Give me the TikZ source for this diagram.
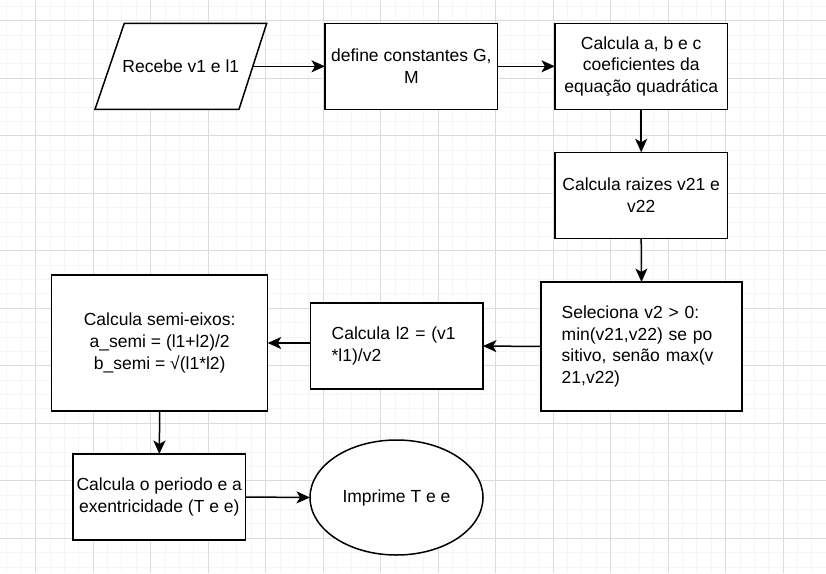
\documentclass[tikz,border=0pt]{standalone}
\usepackage{fontspec}
\setmainfont{Liberation Sans}
\usetikzlibrary{shapes.geometric,arrows.meta}
\newcommand\dfont{\fontsize{17.5}{21.6}\selectfont}
\begin{document}
\begin{tikzpicture}[x=1pt,y=-1pt,
  gridminor/.style={draw=black!4,line width=1pt},
  gridmajor/.style={draw=black!14,line width=1pt},
  box/.style={draw=black,fill=white,line width=1.5pt,rectangle,inner sep=0pt,outer sep=0pt,align=center,font=\dfont},
  txt/.style={inner sep=0pt,align=center,font=\dfont},
  arr/.style={-{Stealth[length=13.5pt,width=12pt,inset=3.5pt]},line width=1.5pt}]
\useasboundingbox (0,0) rectangle (826,573);
\fill[white] (0,0) rectangle (826,573);
% grid
\foreach \k in {-2,...,54} \draw[gridminor] ({35.7+14.375*\k},0) -- ({35.7+14.375*\k},573);
\foreach \k in {-1,...,38} \draw[gridminor] (0,{20.8+14.375*\k}) -- (826,{20.8+14.375*\k});
\foreach \k in {0,...,13} \draw[gridmajor] ({35.7+57.5*\k},0) -- ({35.7+57.5*\k},573);
\foreach \k in {0,...,9} \draw[gridmajor] (0,{20.8+57.5*\k}) -- (826,{20.8+57.5*\k});
% input parallelogram
\draw[fill=white,line width=1.5pt] (124.3,23.3) -- (266.7,23.3) -- (239,109.3) -- (95,109.3) -- cycle;
\node[txt] (in) at (180.8,66.3) {Recebe v1 e l1};
\coordinate (inR) at (252.9,66.3);
% boxes
\node[box,minimum width=172.7pt,minimum height=86pt] (b2) at (411.3,66.3) {define constantes G,\\M};
\node[box,minimum width=172.5pt,minimum height=86pt] (b3) at (641.2,66.3) {Calcula a, b e c\\coeficientes da\\equação quadrática};
\node[box,minimum width=172.3pt,minimum height=86pt] (b4) at (641.2,195.3) {Calcula raizes v21 e\\v22};
\node[box,minimum width=201pt,minimum height=129pt,text width=159.6pt,align=left] (b5) at (641.5,346.5) {Seleciona v2 > 0:\\min(v21,v22) se po\\sitivo, senão max(v\\21,v22)};
\node[box,minimum width=172.3pt,minimum height=86pt,text width=130.3pt,align=left] (b6) at (396.8,346) {Calcula l2 = (v1\\{}*l1)/v2};
\node[box,minimum width=216pt,minimum height=136pt] (b7) at (159.7,343) {Calcula semi-eixos:\\a\_semi = (l1+l2)/2\\b\_semi = √(l1{}*l2)};
\node[box,minimum width=172.7pt,minimum height=86pt] (b8) at (159.3,497) {Calcula o periodo e a\\exentricidade (T e e)};
\node[box,ellipse,minimum width=173pt,minimum height=115pt] (ell) at (396.5,497.5) {Imprime T e e};
% connectors
\draw[arr] (inR) -- (b2.west);
\draw[arr] (b2.east) -- (b3.west);
\draw[arr] (b3.south) -- (b4.north);
\draw[arr] (b4.south) -- (b5.north);
\draw[arr] (b5.west) -- (b6.east);
\draw[arr] (b7.east -| b6.west) -- (b7.east);
\draw[arr] (b7.south) -- (b8.north);
\draw[arr] (b8.east) -- (ell.west);
\end{tikzpicture}
\end{document}
